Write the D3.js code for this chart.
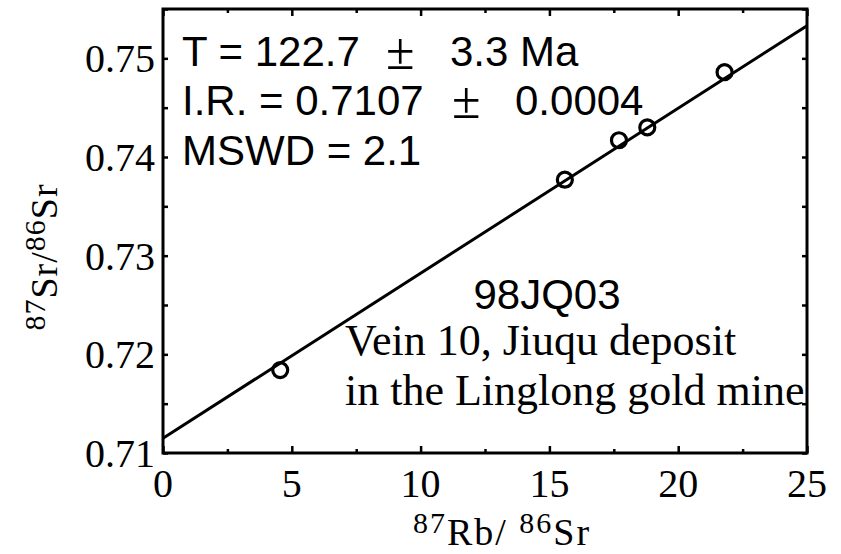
<!DOCTYPE html>
<html>
<head>
<meta charset="utf-8">
<script src="https://cdn.jsdelivr.net/npm/d3@7"></script>
<style>
	body { margin: 0; background: #fff; }
	svg { display: block; }
</style>
</head>
<body>
<script>
// sample points (87Rb/86Sr, 87Sr/86Sr)
const rbSr = [4.55, 15.6, 17.7, 18.8, 21.8];
const srSr = [0.7184, 0.7377, 0.7417, 0.7430, 0.7486];

// isochron line ends
const fitX = [0, 25];
const fitY = [0.7115, 0.7533];

const xTicks = [0, 5, 10, 15, 20, 25];
const yTicks = [0.71, 0.72, 0.73, 0.74, 0.75];

const w = 841;
const h = 554;
const pLeft = 163, pRight = 807, pTop = 9, pBottom = 453;

const svg = d3
	.select('body')
	.append('svg')
	.attr('width', w)
	.attr('height', h);

const xScale = d3.scaleLinear().domain([0, 25]).range([pLeft, pRight]);
const yScale = d3.scaleLinear().domain([0.71, 0.755]).range([pBottom, pTop]);

const serif = '"Liberation Serif", "Times New Roman", serif';
const sans = '"Liberation Sans", Arial, sans-serif';

// ticks, all inside the frame
const xMinor = d3.range(2.5, 25, 5);
const yMinor = d3.range(0.715, 0.755, 0.01);

const xAxisB = d3.axisBottom(xScale).tickValues(xTicks).tickSize(-7).tickFormat('');
const xAxisBm = d3.axisBottom(xScale).tickValues(xMinor).tickSize(-4).tickFormat('');
const xAxisT = d3.axisTop(xScale).tickValues(xTicks).tickSize(-7).tickFormat('');
const xAxisTm = d3.axisTop(xScale).tickValues(xMinor).tickSize(-4).tickFormat('');
const yAxisL = d3.axisLeft(yScale).tickValues(yTicks.concat(yMinor)).tickSize(-5).tickFormat('');
const yAxisR = d3.axisRight(yScale).tickValues(yTicks.concat(yMinor)).tickSize(-5).tickFormat('');

svg.append('g').attr('transform', `translate(0,${pBottom})`).call(xAxisB);
svg.append('g').attr('transform', `translate(0,${pBottom})`).call(xAxisBm);
svg.append('g').attr('transform', `translate(0,${pTop})`).call(xAxisT);
svg.append('g').attr('transform', `translate(0,${pTop})`).call(xAxisTm);
svg.append('g').attr('transform', `translate(${pLeft},0)`).call(yAxisL);
svg.append('g').attr('transform', `translate(${pRight},0)`).call(yAxisR);

svg.selectAll('.domain').remove();
svg.selectAll('.tick line').attr('stroke', '#000').attr('stroke-width', 2.5);

// frame
svg
	.append('rect')
	.attr('x', pLeft)
	.attr('y', pTop)
	.attr('width', pRight - pLeft)
	.attr('height', pBottom - pTop)
	.attr('fill', 'none')
	.attr('stroke', '#000')
	.attr('stroke-width', 3);

// tick labels
svg
	.selectAll('.xlab')
	.data(xTicks)
	.enter()
	.append('text')
	.attr('x', d => xScale(d))
	.attr('y', 497)
	.attr('text-anchor', 'middle')
	.style('font-family', serif)
	.style('font-size', '40px')
	.text(d => d);

svg
	.selectAll('.ylab')
	.data(yTicks)
	.enter()
	.append('text')
	.attr('x', pLeft - 8)
	.attr('y', d => yScale(d) + 14)
	.attr('text-anchor', 'end')
	.style('font-family', serif)
	.style('font-size', '40px')
	.text(d => d3.format('.2f')(d));

// axis titles
const xt = svg
	.append('text')
	.attr('x', 502)
	.attr('y', 545)
	.attr('text-anchor', 'middle')
	.style('font-family', serif)
	.style('font-size', '38px')
	.style('letter-spacing', '2px');
xt.append('tspan').attr('dy', -12).style('font-size', '30px').text('87');
xt.append('tspan').attr('dy', 12).text('Rb/ ');
xt.append('tspan').attr('dy', -12).style('font-size', '30px').text('86');
xt.append('tspan').attr('dy', 12).text('Sr');

const yt = svg
	.append('text')
	.attr('transform', 'translate(57,257) rotate(-90)')
	.attr('text-anchor', 'middle')
	.style('font-family', serif)
	.style('font-size', '38px')
	.style('letter-spacing', '1px');
yt.append('tspan').attr('dy', -12).style('font-size', '30px').text('87');
yt.append('tspan').attr('dy', 12).text('Sr/');
yt.append('tspan').attr('dy', -12).style('font-size', '30px').text('86');
yt.append('tspan').attr('dy', 12).text('Sr');

// isochron
const line = d3
	.line()
	.x(d => xScale(d[0]))
	.y(d => yScale(d[1]));

svg
	.append('path')
	.datum(d3.zip(fitX, fitY))
	.attr('d', line)
	.attr('fill', 'none')
	.attr('stroke', '#000')
	.attr('stroke-width', 3);

svg
	.selectAll('circle')
	.data(d3.zip(rbSr, srSr))
	.enter()
	.append('circle')
	.attr('cx', d => xScale(d[0]))
	.attr('cy', d => yScale(d[1]))
	.attr('r', 7.5)
	.attr('fill', 'none')
	.attr('stroke', '#000')
	.attr('stroke-width', 3.2);

// annotations: label, ± x, value, value x, baseline
const stats = [
	['T = 122.7', 386, '3.3 Ma', 450, 66],
	['I.R. = 0.7107', 452, '0.0004', 515, 115],
	['MSWD = 2.1', null, null, null, 165],
];

stats.forEach(s => {
	svg
		.append('text')
		.attr('x', 182)
		.attr('y', s[4])
		.style('font-family', sans)
		.style('font-size', '42px')
		.text(s[0]);
	if (s[2]) {
		svg
			.append('text')
			.attr('x', s[1])
			.attr('y', s[4] + 3)
			.style('font-family', serif)
			.style('font-size', '52px')
			.text('\u00b1');
		svg
			.append('text')
			.attr('x', s[3])
			.attr('y', s[4])
			.style('font-family', sans)
			.style('font-size', '42px')
			.text(s[2]);
	}
});

svg
	.append('text')
	.attr('x', 547)
	.attr('y', 309)
	.attr('text-anchor', 'middle')
	.style('font-family', sans)
	.style('font-size', '42px')
	.text('98JQ03');

svg
	.append('text')
	.attr('x', 345)
	.attr('y', 355)
	.style('font-family', serif)
	.style('font-size', '44px')
	.text('Vein 10, Jiuqu deposit');

svg
	.append('text')
	.attr('x', 345)
	.attr('y', 405)
	.style('font-family', serif)
	.style('font-size', '44px')
	.text('in the Linglong gold mine');
</script>
</body>
</html>
